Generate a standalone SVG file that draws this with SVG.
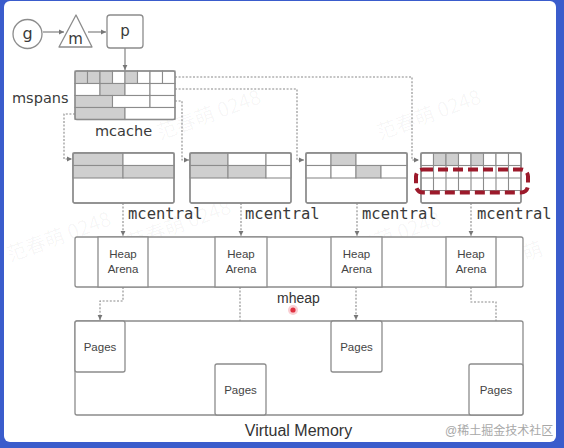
<svg xmlns="http://www.w3.org/2000/svg" width="564" height="448" viewBox="0 0 564 448">
<style>
.box{fill:#fff;stroke:#8c8c8c;stroke-width:1.3}
.g{fill:#cfcfcf;stroke:#8c8c8c;stroke-width:1.1}
.w{fill:#fff;stroke:#8c8c8c;stroke-width:1.1}
.ln{fill:none;stroke:#8c8c8c;stroke-width:1.1}
.con{fill:none;stroke:#8a8a8a;stroke-width:1.1;stroke-dasharray:2 1.6}
.sol{fill:none;stroke:#777;stroke-width:1.1}
.rnd{font-family:"DejaVu Sans",sans-serif;fill:#3a3a3a}
.mono{font-family:"DejaVu Sans Mono","Liberation Mono",monospace;font-size:15.5px;fill:#3a3a3a}
.lbl{font-family:"Liberation Sans",Arial,sans-serif;font-size:11.5px;fill:#444;text-anchor:middle}
.wm{font-family:"Noto Sans CJK SC","DejaVu Sans",sans-serif;font-size:20px;fill:#000;fill-opacity:0.04}
</style>
<defs>
<marker id="ah" markerWidth="6" markerHeight="6" refX="5" refY="3" orient="auto" markerUnits="userSpaceOnUse">
<path d="M0,0.6 L5,3 L0,5.4 Z" fill="#777"/>
</marker>
</defs>
<rect x="0" y="0" width="564" height="448" fill="#3a5ccc"/>
<rect x="4" y="1" width="552" height="441" rx="6" fill="#fff"/>

<g id="watermarks">
<text class="wm" transform="translate(10,262) rotate(-20)">范春萌 0248</text>
<text class="wm" transform="translate(160,140) rotate(-20)">范春萌 0248</text>
<text class="wm" transform="translate(380,140) rotate(-20)">范春萌 0248</text>
<text class="wm" transform="translate(130,250) rotate(-20)">范春萌 0248</text>
<text class="wm" transform="translate(340,262) rotate(-20)">范春萌 0248</text>
<text class="wm" transform="translate(90,385) rotate(-20)">范春萌 0248</text>
<text class="wm" transform="translate(380,385) rotate(-20)">范春萌 0248</text>
<text class="wm" transform="translate(488,275) rotate(-20)">范春萌</text>
</g>

<g id="connectors">
<line class="sol" x1="43" y1="32" x2="64" y2="32" marker-end="url(#ah)"/>
<line class="sol" x1="88" y1="32" x2="106" y2="32" marker-end="url(#ah)"/>
<line class="sol" x1="125" y1="48" x2="125" y2="70" marker-end="url(#ah)"/>
<path class="con" d="M175,77 H412 V160 H419" marker-end="url(#ah)"/>
<path class="con" d="M175,89 H297 V160 H304" marker-end="url(#ah)"/>
<path class="con" d="M175,101 H182 V160 H189" marker-end="url(#ah)"/>
<path class="con" d="M75,114 H64 V159 H72" marker-end="url(#ah)"/>
<path class="con" d="M123,203 V236" marker-end="url(#ah)"/>
<path class="con" d="M241,203 V236" marker-end="url(#ah)"/>
<path class="con" d="M357,203 V236" marker-end="url(#ah)"/>
<path class="con" d="M471,203 V236" marker-end="url(#ah)"/>
<path class="con" d="M123,287 V301 H100 V320" marker-end="url(#ah)"/>
<path class="con" d="M240,287 V363" marker-end="url(#ah)"/>
<path class="con" d="M356,287 V320" marker-end="url(#ah)"/>
<path class="con" d="M471,287 V302 H496 V363" marker-end="url(#ah)"/>
</g>

<g id="g">
<circle class="box" cx="27.5" cy="34" r="14.5"/>
<text class="rnd" x="27.5" y="39" font-size="16" text-anchor="middle">g</text>
</g>
<g id="m">
<path class="box" d="M76,15 L92,47 L59,47 Z" stroke-linejoin="round"/>
<text class="rnd" x="75.5" y="44" font-size="15" text-anchor="middle">m</text>
</g>
<g id="p">
<rect class="box" x="107" y="15" width="36" height="33" rx="3"/>
<text class="rnd" x="125" y="36" font-size="15" text-anchor="middle">p</text>
</g>

<g id="mcache">
<rect class="g" x="75" y="71" width="12.5" height="12.5"/>
<rect class="g" x="87.5" y="71" width="12.5" height="12.5"/>
<rect class="g" x="100" y="71" width="12.5" height="12.5"/>
<rect class="w" x="112.5" y="71" width="12.5" height="12.5"/>
<rect class="g" x="125" y="71" width="12.5" height="12.5"/>
<rect class="w" x="137.5" y="71" width="12.5" height="12.5"/>
<rect class="w" x="150" y="71" width="12.5" height="12.5"/>
<rect class="w" x="162.5" y="71" width="12.5" height="12.5"/>
<rect class="w" x="75" y="83.5" width="25" height="12"/>
<rect class="g" x="100" y="83.5" width="25" height="12"/>
<rect class="w" x="125" y="83.5" width="25" height="12"/>
<rect class="w" x="150" y="83.5" width="25" height="12"/>
<rect class="g" x="75" y="95.5" width="37.5" height="12"/>
<rect class="w" x="112.5" y="95.5" width="37.5" height="12"/>
<rect class="w" x="150" y="95.5" width="25" height="12"/>
<rect class="g" x="75" y="107.5" width="50" height="12"/>
<rect class="w" x="125" y="107.5" width="50" height="12"/>
<rect x="75" y="71" width="100" height="48.5" rx="2" fill="none" stroke="#8c8c8c" stroke-width="1.3"/>
<text class="rnd" x="12" y="103" font-size="14.5">mspans</text>
<text class="rnd" x="95" y="136" font-size="14.5">mcache</text>
</g>

<g id="mcentral1">
<rect class="box" x="73" y="153" width="101" height="50" rx="2"/>
<rect class="g" x="73" y="153" width="50" height="12.5"/>
<rect class="w" x="123" y="153" width="51" height="12.5"/>
<rect class="g" x="73" y="165.5" width="50" height="12.5"/>
<rect class="g" x="123" y="165.5" width="51" height="12.5"/>
<rect x="73" y="153" width="101" height="50" rx="2" fill="none" stroke="#8c8c8c" stroke-width="1.3"/>
<text class="mono" x="128" y="219">mcentral</text>
</g>
<g id="mcentral2">
<rect class="box" x="190" y="153" width="101" height="50" rx="2"/>
<rect class="g" x="190" y="153" width="38" height="12.5"/>
<rect class="w" x="228" y="153" width="38" height="12.5"/>
<rect class="w" x="266" y="153" width="25" height="12.5"/>
<rect class="g" x="190" y="165.5" width="38" height="12.5"/>
<rect class="g" x="228" y="165.5" width="38" height="12.5"/>
<rect class="w" x="266" y="165.5" width="25" height="12.5"/>
<rect x="190" y="153" width="101" height="50" rx="2" fill="none" stroke="#8c8c8c" stroke-width="1.3"/>
<text class="mono" x="245" y="219">mcentral</text>
</g>
<g id="mcentral3">
<rect class="box" x="306" y="153" width="101" height="50" rx="2"/>
<rect class="w" x="306" y="153" width="25" height="12.5"/>
<rect class="g" x="331" y="153" width="25" height="12.5"/>
<rect class="w" x="356" y="153" width="51" height="12.5"/>
<rect class="w" x="306" y="165.5" width="25" height="12.5"/>
<rect class="w" x="331" y="165.5" width="25" height="12.5"/>
<rect class="g" x="356" y="165.5" width="25" height="12.5"/>
<rect class="w" x="381" y="165.5" width="26" height="12.5"/>
<rect x="306" y="153" width="101" height="50" rx="2" fill="none" stroke="#8c8c8c" stroke-width="1.3"/>
<text class="mono" x="362" y="219">mcentral</text>
</g>
<g id="mcentral4">
<rect class="box" x="421" y="153" width="100" height="50" rx="2"/>
<rect class="w" x="421" y="153" width="12.5" height="12.5"/>
<rect class="g" x="433.5" y="153" width="12.5" height="12.5"/>
<rect class="g" x="446" y="153" width="12.5" height="12.5"/>
<rect class="w" x="458.5" y="153" width="12.5" height="12.5"/>
<rect class="g" x="471" y="153" width="12.5" height="12.5"/>
<rect class="w" x="483.5" y="153" width="12.5" height="12.5"/>
<rect class="w" x="496" y="153" width="12.5" height="12.5"/>
<rect class="w" x="508.5" y="153" width="12.5" height="12.5"/>
<path class="ln" d="M421,165.5 H521 M421,178 H521 M421,190.5 H521 M433.5,165.5 V190.5 M446,165.5 V190.5 M458.5,165.5 V190.5 M471,165.5 V190.5 M483.5,165.5 V190.5 M496,165.5 V190.5 M508.5,165.5 V190.5"/>
<rect x="421" y="153" width="100" height="50" rx="2" fill="none" stroke="#8c8c8c" stroke-width="1.3"/>
<rect x="416" y="169.5" width="112" height="23" rx="7" fill="none" stroke="#9c1a2b" stroke-width="4" stroke-dasharray="10 5"/>
<text class="mono" x="477" y="219">mcentral</text>
</g>

<g id="mheap">
<rect class="box" x="75" y="237" width="448" height="50" rx="2"/>
<rect class="box" x="98" y="237" width="50" height="50"/>
<rect class="box" x="215" y="237" width="52" height="50"/>
<rect class="box" x="331" y="237" width="51" height="50"/>
<rect class="box" x="446" y="237" width="50" height="50"/>
<text class="lbl" x="123" y="258">Heap</text><text class="lbl" x="123" y="273">Arena</text>
<text class="lbl" x="241" y="258">Heap</text><text class="lbl" x="241" y="273">Arena</text>
<text class="lbl" x="356.5" y="258">Heap</text><text class="lbl" x="356.5" y="273">Arena</text>
<text class="lbl" x="471" y="258">Heap</text><text class="lbl" x="471" y="273">Arena</text>
<text x="277" y="303" font-family="Liberation Sans, Arial, sans-serif" font-size="14" fill="#333">mheap</text>
<circle cx="293" cy="310" r="5" fill="#f4a0a8" fill-opacity="0.5"/>
<circle cx="293" cy="310" r="2.6" fill="#e03040"/>
</g>

<g id="virtual-memory">
<rect class="box" x="75" y="321" width="448" height="94" rx="2"/>
<rect class="box" x="75" y="321" width="50" height="51" rx="2"/>
<rect class="box" x="215" y="364" width="51" height="51" rx="2"/>
<rect class="box" x="331" y="321" width="51" height="51" rx="2"/>
<rect class="box" x="469" y="364" width="54" height="51" rx="2"/>
<text class="lbl" x="100" y="351">Pages</text>
<text class="lbl" x="240.5" y="394">Pages</text>
<text class="lbl" x="356.5" y="351">Pages</text>
<text class="lbl" x="496" y="394">Pages</text>
<text x="298.5" y="436" font-family="Liberation Sans, Arial, sans-serif" font-size="16" fill="#333" text-anchor="middle">Virtual Memory</text>
</g>

<text x="445" y="435" font-family="Liberation Sans, 'Noto Sans CJK SC', sans-serif" font-size="12" fill="#a8a8a8">@稀土掘金技术社区</text>
</svg>
